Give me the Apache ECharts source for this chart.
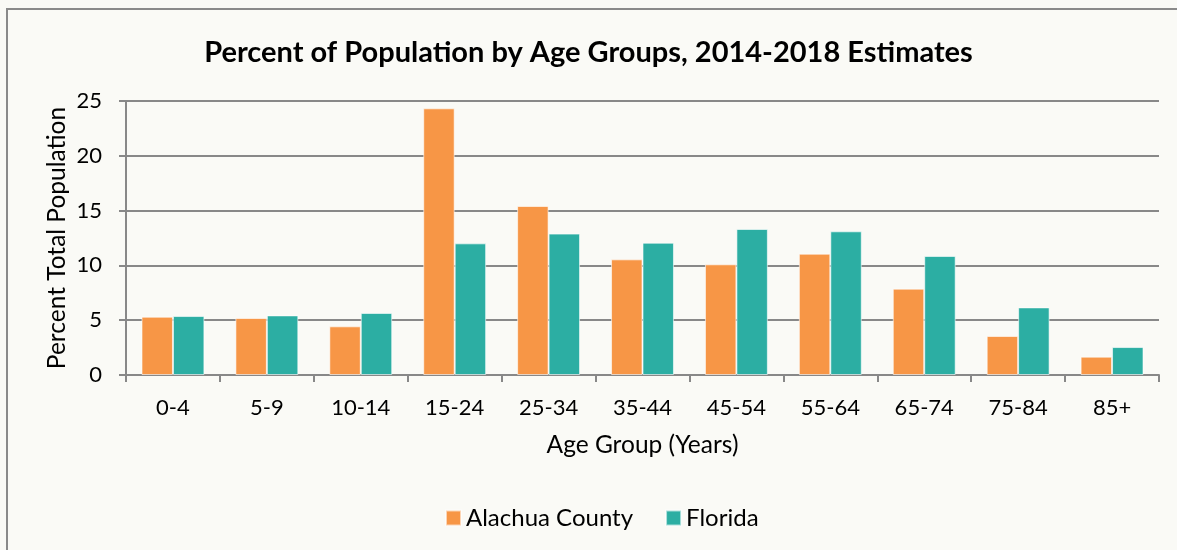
<!DOCTYPE html>
<html lang="en" style="height: 100%">
<head>
  <meta charset="utf-8">
</head>
<body style="height: 100%; margin: 0; background: #fafaf6">
  <div id="container" style="width: 1177px; height: 550px"></div>

<script type="text/javascript" src="https://cdn.jsdelivr.net/npm/echarts@6/dist/echarts.min.js"></script>

<script type="text/javascript">
var dom = document.getElementById('container');
var myChart = echarts.init(dom, null, { renderer: 'canvas' });

// age groups and percent of total population
var ageGroups = ['0-4', '5-9', '10-14', '15-24', '25-34', '35-44', '45-54', '55-64', '65-74', '75-84', '85+'];
var alachua = [5.32, 5.2, 4.44, 24.33, 15.42, 10.55, 10.1, 11.07, 7.88, 3.56, 1.67];
var florida = [5.38, 5.44, 5.66, 12.01, 12.9, 12.07, 13.32, 13.11, 10.86, 6.17, 2.55];
var yTicks = [0, 5, 10, 15, 20, 25];

var font = 'Lato';
var axisGray = '#888888';

var option = {
  backgroundColor: '#fafaf6',
  textStyle: { fontFamily: font },
  graphic: [
    {
      type: 'rect',
      left: 6,
      top: 8,
      shape: { width: 1300, height: 700 },
      style: { fill: 'transparent', stroke: '#8a8a8a', lineWidth: 2 },
      silent: true
    }
  ],
  title: {
    text: 'Percent of Population by Age Groups, 2014-2018 Estimates',
    left: 'center',
    top: 33,
    textStyle: { fontFamily: font, fontSize: 29, fontWeight: 'bold', color: '#000' }
  },
  legend: {
    bottom: 15,
    left: 440,
    itemWidth: 15,
    itemHeight: 15,
    itemGap: 32,
    icon: 'rect',
    textStyle: { fontFamily: font, fontSize: 24, color: '#000' },
    data: ['Alachua County', 'Florida']
  },
  grid: {
    left: 126,
    right: 18,
    top: 101,
    bottom: 175,
    containLabel: false
  },
  xAxis: {
    type: 'category',
    data: ageGroups,
    name: 'Age Group (Years)',
    nameLocation: 'middle',
    nameGap: 58,
    nameTextStyle: { fontFamily: font, fontSize: 24.5, color: '#000' },
    axisLine: { lineStyle: { color: axisGray, width: 2 } },
    axisTick: { show: true, length: 7, lineStyle: { color: axisGray, width: 2 } },
    axisLabel: { fontFamily: font, fontSize: 22, color: '#000', margin: 22, interval: 0 }
  },
  yAxis: {
    type: 'value',
    min: yTicks[0],
    max: yTicks[yTicks.length - 1],
    interval: 5,
    name: 'Percent Total Population',
    nameLocation: 'middle',
    nameGap: 56,
    nameMoveOverlap: false,
    nameTextStyle: { fontFamily: font, fontSize: 24.5, color: '#000' },
    axisLine: { show: true, lineStyle: { color: axisGray, width: 2 } },
    axisTick: { show: true, length: 7, lineStyle: { color: axisGray, width: 2 } },
    axisLabel: { fontFamily: font, fontSize: 22, color: '#000', margin: 24 },
    splitLine: { show: true, lineStyle: { color: axisGray, width: 2 } }
  },
  series: [
    {
      name: 'Alachua County',
      type: 'bar',
      barGap: 0,
      barCategoryGap: '33%',
      itemStyle: { color: '#f79646', borderColor: 'rgba(255,255,255,0.6)', borderWidth: 1 },
      data: alachua
    },
    {
      name: 'Florida',
      type: 'bar',
      itemStyle: { color: '#2caea3', borderColor: 'rgba(255,255,255,0.6)', borderWidth: 1 },
      data: florida
    }
  ]
};

myChart.setOption(option);
window.addEventListener('resize', myChart.resize);
</script>
</body>
</html>
